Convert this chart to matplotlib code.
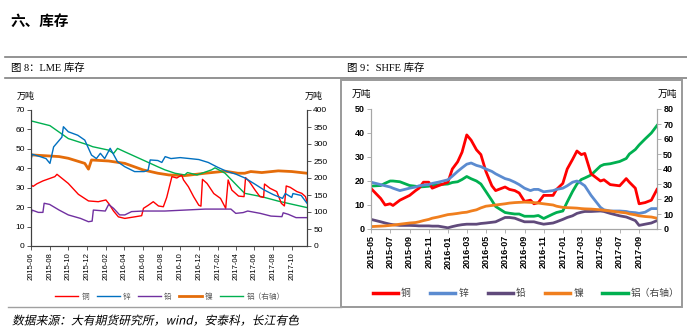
import matplotlib
matplotlib.use("Agg")
import matplotlib.pyplot as plt
import matplotlib.dates as mdates
from matplotlib.lines import Line2D
from matplotlib.patches import Rectangle
from matplotlib.patheffects import AbstractPathEffect
from matplotlib.transforms import Affine2D
import pandas as pd

plt.rcParams['font.family'] = ['Liberation Sans', 'Noto Sans CJK SC', 'DejaVu Sans']

# ---------------- LME (图8) ----------------
lme_cu_dates = ["2015-06-01", "2015-06-08", "2015-06-20", "2015-07-10", "2015-08-18", "2015-08-25",
                "2015-10-01", "2015-11-03", "2015-12-06", "2016-01-07", "2016-02-01", "2016-02-12",
                "2016-02-26", "2016-03-13", "2016-04-03", "2016-05-05", "2016-05-28", "2016-06-03",
                "2016-06-19", "2016-07-05", "2016-07-22", "2016-08-07", "2016-08-18", "2016-09-04",
                "2016-09-20", "2016-10-06", "2016-10-12", "2016-10-28", "2016-11-14", "2016-12-01",
                "2016-12-08", "2016-12-13", "2016-12-28", "2017-01-19", "2017-02-10", "2017-02-27",
                "2017-03-07", "2017-03-19", "2017-04-10", "2017-04-28", "2017-05-03", "2017-05-16",
                "2017-06-03", "2017-06-19", "2017-07-01", "2017-07-04", "2017-07-22", "2017-08-13",
                "2017-08-28", "2017-09-07", "2017-09-13", "2017-09-26", "2017-10-18", "2017-11-03",
                "2017-11-15", "2017-11-20"]
lme_cu = [31.4, 30.7, 32.0, 33.5, 35.7, 36.9,
          32.2, 26.6, 23.2, 22.8, 23.7, 21.5,
          18.0, 15.0, 14.2, 15.0, 15.6, 19.4,
          21.0, 22.8, 20.6, 20.2, 25.0, 35.7,
          35.0, 36.5, 34.0, 30.5, 25.4, 21.0,
          20.5, 34.3, 32.2, 27.0, 24.5, 19.4,
          34.0, 28.8, 25.7, 25.4, 35.2, 33.0,
          28.8, 25.4, 25.0, 31.9, 29.7, 28.0,
          22.0, 20.6, 30.9, 30.2, 28.0, 27.1,
          25.4, 22.8]

lme_zn_dates = ["2015-06-01", "2015-06-05", "2015-07-01", "2015-07-20", "2015-08-02", "2015-08-14",
                "2015-09-10", "2015-09-15", "2015-10-01", "2015-11-01", "2015-11-24", "2015-12-16",
                "2016-01-01", "2016-01-14", "2016-01-28", "2016-02-15", "2016-03-10", "2016-04-03",
                "2016-05-05", "2016-06-05", "2016-06-18", "2016-06-25", "2016-07-20", "2016-08-02",
                "2016-08-13", "2016-09-01", "2016-10-01", "2016-11-01", "2016-12-01", "2017-01-01",
                "2017-02-01", "2017-03-01", "2017-04-01", "2017-05-01", "2017-06-01", "2017-07-01",
                "2017-08-01", "2017-09-01", "2017-09-10", "2017-10-01", "2017-10-05", "2017-11-01",
                "2017-11-20"]
lme_zn = [44.3, 47.2, 46.0, 45.0, 42.5, 51.0,
          56.0, 61.4, 58.8, 57.0, 54.5, 46.8,
          45.0, 47.7, 45.0, 50.3, 43.4, 40.8,
          38.3, 38.3, 39.0, 44.3, 44.0, 43.0,
          46.0, 45.0, 45.5, 45.0, 44.5, 43.0,
          40.5, 38.5, 37.0, 35.0, 32.0, 29.0,
          26.5, 24.5, 27.0, 25.0, 27.0, 26.0,
          22.0]

lme_pb_dates = ["2015-06-01", "2015-06-04", "2015-06-25", "2015-07-10", "2015-07-14", "2015-08-01",
                "2015-09-01", "2015-10-01", "2015-11-10", "2015-12-06", "2015-12-18", "2015-12-22",
                "2016-01-30", "2016-02-10", "2016-02-26", "2016-03-17", "2016-04-03", "2016-04-25",
                "2016-06-01", "2016-08-12", "2016-12-22", "2017-03-16", "2017-04-01", "2017-04-25",
                "2017-05-10", "2017-06-20", "2017-07-25", "2017-08-30", "2017-09-03", "2017-09-20",
                "2017-10-15", "2017-11-20"]
lme_pb = [15.1, 18.5, 17.3, 17.3, 22.0, 21.4,
          18.5, 16.0, 14.2, 12.5, 12.8, 18.5,
          18.0, 21.4, 19.4, 16.0, 16.0, 17.7,
          18.0, 18.0, 19.0, 19.0, 16.8, 17.2,
          18.0, 16.8, 15.4, 15.1, 17.1, 16.3,
          14.6, 14.6]

lme_ni_dates = ["2015-06-01", "2015-09-01", "2015-10-01", "2015-11-24", "2015-12-06", "2015-12-16",
                "2016-02-10", "2016-04-03", "2016-06-01", "2016-07-20", "2016-08-25", "2016-10-16",
                "2016-12-22", "2017-02-25", "2017-04-08", "2017-04-30", "2017-05-20", "2017-06-25",
                "2017-08-18", "2017-10-01", "2017-11-20"]
lme_ni = [268, 263, 258, 243, 226, 253,
          250, 243, 224, 214, 209, 207,
          214, 220, 214, 214, 219, 216,
          221, 219, 214]

lme_al_dates = ["2015-06-01", "2015-08-02", "2015-10-01", "2015-12-06", "2015-12-20", "2016-02-10",
                "2016-02-26", "2016-03-10", "2016-04-03", "2016-06-01", "2016-07-20", "2016-08-12",
                "2016-09-14", "2016-10-16", "2016-10-25", "2016-11-25", "2017-01-12", "2017-01-23",
                "2017-02-25", "2017-04-08", "2017-04-30", "2017-06-25", "2017-08-18", "2017-10-01",
                "2017-11-20"]
lme_al = [368, 354, 316, 297, 292, 282,
          272, 287, 277, 253, 233, 224,
          214, 209, 216, 209, 224, 230,
          214, 175, 155, 145, 132, 123,
          113]

# ---------------- SHFE (图9) ----------------
shfe_dates = ["2015-05-01", "2015-06-01", "2015-06-15", "2015-07-01", "2015-07-10", "2015-08-01",
              "2015-09-01", "2015-09-20", "2015-10-01", "2015-10-15", "2015-11-01", "2015-11-12",
              "2015-12-01", "2016-01-01", "2016-01-15", "2016-02-01", "2016-02-15", "2016-03-01",
              "2016-03-15", "2016-04-01", "2016-04-15", "2016-05-01", "2016-05-20", "2016-06-01",
              "2016-07-01", "2016-07-15", "2016-08-01", "2016-08-15", "2016-09-01", "2016-09-20",
              "2016-10-01", "2016-10-15", "2016-11-01", "2016-12-01", "2016-12-12", "2017-01-01",
              "2017-01-15", "2017-02-01", "2017-02-15", "2017-03-01", "2017-03-12", "2017-04-01",
              "2017-05-01", "2017-05-12", "2017-06-01", "2017-07-01", "2017-07-22", "2017-08-01",
              "2017-08-20", "2017-09-01", "2017-09-20", "2017-10-10", "2017-10-28"]
shfe_cu = [16.9, 12.7, 10.0, 10.5, 9.8, 12.0,
           14.0, 16.0, 17.0, 19.5, 19.5, 17.0,
           18.0, 19.5, 25.0, 28.0, 32.0, 39.2,
           37.0, 33.0, 31.0, 24.0, 18.0, 16.0,
           17.5, 16.5, 16.0, 15.0, 11.5, 12.0,
           10.5, 11.0, 14.0, 14.0, 16.5, 19.0,
           25.0, 29.0, 32.5, 31.0, 31.5, 23.0,
           20.0, 20.5, 18.5, 18.0, 21.0, 19.5,
           17.0, 10.5, 11.0, 12.0, 16.5]
shfe_zn = [19.5, 18.5, 18.0, 17.5, 17.0, 16.0,
           17.0, 17.5, 18.0, 18.3, 18.5, 19.0,
           19.5, 20.5, 22.0, 24.0, 25.5, 27.0,
           27.5, 26.5, 26.0, 25.0, 24.0, 23.0,
           21.0, 20.5, 19.5, 18.5, 17.0, 16.0,
           16.5, 16.5, 15.5, 16.0, 16.5, 17.0,
           18.0, 19.5, 20.0, 19.0, 18.0, 14.0,
           9.0, 8.0, 7.5, 7.5, 7.3, 7.0,
           6.8, 6.5, 7.0, 8.5, 8.5]
shfe_pb = [4.0, 3.0, 2.5, 2.0, 1.8, 1.5,
           1.5, 1.4, 1.3, 1.3, 1.3, 1.2,
           1.2, 0.5, 1.0, 1.5, 1.8, 2.0,
           2.0, 2.0, 2.3, 2.5, 2.8, 3.0,
           4.8, 4.8, 4.5, 3.8, 3.0, 3.0,
           3.0, 2.5, 2.0, 2.5, 3.0, 4.0,
           4.8, 5.5, 6.5, 7.0, 7.3, 7.3,
           7.5, 7.3, 6.5, 5.5, 5.0, 4.5,
           3.5, 1.5, 2.0, 2.5, 3.5]
shfe_ni = [1.0, 1.2, 1.3, 1.5, 1.6, 2.0,
           2.5, 2.7, 3.0, 3.5, 4.0, 4.5,
           5.0, 6.0, 6.2, 6.5, 6.8, 7.0,
           7.5, 8.0, 8.8, 9.5, 9.8, 10.0,
           10.5, 10.8, 11.0, 11.1, 11.2, 11.1,
           11.0, 10.8, 10.5, 10.0, 9.5, 9.0,
           8.9, 8.8, 8.7, 8.5, 8.4, 8.3,
           8.0, 7.8, 7.5, 7.0, 6.7, 6.3,
           5.9, 5.5, 5.2, 5.0, 4.5]
shfe_al = [28.6, 29.0, 30.5, 32.0, 32.0, 31.5,
           29.0, 28.5, 28.0, 28.2, 28.5, 29.0,
           29.5, 30.0, 31.0, 31.5, 33.0, 35.0,
           33.5, 32.0, 30.0, 25.0, 19.0, 15.0,
           11.0, 10.5, 10.0, 10.0, 8.5, 8.5,
           8.5, 9.0, 7.0, 10.0, 11.0, 12.0,
           18.0, 25.0, 30.0, 33.0, 34.0, 36.0,
           42.0, 43.0, 43.5, 45.0, 47.0, 50.0,
           53.0, 56.0, 60.0, 64.0, 69.0]

names = ["铜", "锌", "铅", "镍", "铝（右轴）"]
lme_colors = ["#FF0000", "#0070C0", "#7030A0", "#E46C0A", "#00B050"]
shfe_colors = ["#FF0000", "#5B8BD0", "#604A7B", "#F07F1E", "#00B050"]

W, H = 687, 331
fig = plt.figure(figsize=(W / 100, H / 100), dpi=100)


class Slant(AbstractPathEffect):
    # fake italic for the CJK source line (the font has no italic face)
    def __init__(self, deg=12):
        super().__init__()
        self.deg = deg

    def draw_path(self, renderer, gc, tpath, affine, rgbFace=None):
        x0, y0 = affine.transform((0, 0))
        sk = Affine2D().translate(-x0, -y0).skew_deg(self.deg, 0).translate(x0, y0)
        renderer.draw_path(gc, tpath, affine + sk, rgbFace)


def box(x0, y0, x1, y1):
    return [x0 / W, 1 - y1 / H, (x1 - x0) / W, (y1 - y0) / H]


def hline(x0, x1, y, color="#808080", lw=1.2):
    fig.add_artist(Line2D([x0 / W, x1 / W], [1 - y / H, 1 - y / H],
                          transform=fig.transFigure, color=color, lw=lw))


# page furniture
fig.text(10 / W, 1 - 21 / H, "六、库存", fontsize=10.5, fontweight="bold",
         va="center", ha="left", family=["Noto Sans CJK SC"])
hline(5, 687, 57)
hline(5, 687, 78)
fig.text(11 / W, 1 - 68 / H, "图 8：LME 库存", fontsize=7.5, va="center", ha="left",
         family=["Liberation Serif", "Noto Sans CJK SC"])
fig.text(347 / W, 1 - 68 / H, "图 9：SHFE 库存", fontsize=7.5, va="center", ha="left",
         family=["Liberation Serif", "Noto Sans CJK SC"])
fig.add_artist(Rectangle((341 / W, 1 - 307 / H), (682 - 341) / W, (307 - 80) / H,
                         transform=fig.transFigure, fill=False, edgecolor="#9a9a9a", lw=1.4))
hline(8, 341, 307, color="#a0a0a0", lw=1.0)
fig.text(12 / W, 1 - 321 / H, "数据来源：大有期货研究所，wind，安泰科，长江有色", fontsize=8.5,
         va="center", ha="left", family=["Noto Sans CJK SC"], path_effects=[Slant(12)])

# ---------------- left chart ----------------
ax1 = fig.add_axes(box(31, 110, 307, 246))
ax1r = ax1.twinx()
d = pd.to_datetime
h = []
h += ax1.plot(d(lme_cu_dates), lme_cu, color=lme_colors[0], lw=1.0)
h += ax1.plot(d(lme_zn_dates), lme_zn, color=lme_colors[1], lw=1.0)
h += ax1.plot(d(lme_pb_dates), lme_pb, color=lme_colors[2], lw=1.0)
h += ax1r.plot(d(lme_ni_dates), lme_ni, color=lme_colors[3], lw=2.0)
h += ax1r.plot(d(lme_al_dates), lme_al, color=lme_colors[4], lw=1.0)
ax1.set_zorder(ax1r.get_zorder() + 1)
ax1.patch.set_visible(False)

ax1.set_xlim(d("2015-06-01"), d("2017-11-20"))
ax1.set_ylim(0, 70)
ax1r.set_ylim(0, 400)
ax1.set_yticks(range(0, 71, 10))
ax1r.set_yticks(range(0, 401, 50))
ax1.xaxis.set_major_locator(mdates.MonthLocator(bymonth=[2, 4, 6, 8, 10, 12]))
ax1.xaxis.set_major_formatter(mdates.DateFormatter("%Y-%m"))
for a in (ax1, ax1r):
    a.spines["top"].set_visible(False)
    for s in ("left", "right", "bottom"):
        a.spines[s].set_color("#404040")
        a.spines[s].set_linewidth(0.8)
    a.tick_params(axis="both", labelsize=6, length=3, width=0.6, color="#404040", pad=1.5)
ax1.tick_params(axis="x", labelrotation=90, labelsize=5.5)
fig.text(26 / W, 1 - 96 / H, "万吨", fontsize=6.5, ha="center", va="center")
fig.text(314 / W, 1 - 96 / H, "万吨", fontsize=6.5, ha="center", va="center")
fig.legend(h, names, loc="center", bbox_to_anchor=(170 / W, 1 - 297 / H), ncol=5,
           frameon=False, fontsize=5.5, handlelength=3.0, handletextpad=0.4,
           columnspacing=1.0, labelcolor="#595959")

# ---------------- right chart ----------------
ax2 = fig.add_axes(box(371, 109, 657, 229))
ax2r = ax2.twinx()
sd = d(shfe_dates)
h2 = []
h2 += ax2.plot(sd, shfe_cu, color=shfe_colors[0], lw=2.0)
h2 += ax2.plot(sd, shfe_zn, color=shfe_colors[1], lw=2.0)
h2 += ax2.plot(sd, shfe_pb, color=shfe_colors[2], lw=2.0)
h2 += ax2.plot(sd, shfe_ni, color=shfe_colors[3], lw=2.0)
h2 += ax2r.plot(sd, shfe_al, color=shfe_colors[4], lw=2.0)
ax2.set_zorder(ax2r.get_zorder() + 1)
ax2.patch.set_visible(False)

ax2.set_xlim(d("2015-05-01"), d("2017-10-28"))
ax2.set_ylim(0, 50)
ax2r.set_ylim(0, 80)
ax2.set_yticks(range(0, 51, 10))
ax2r.set_yticks(range(0, 81, 10))
ax2.xaxis.set_major_locator(mdates.MonthLocator(bymonth=[1, 3, 5, 7, 9, 11]))
ax2.xaxis.set_major_formatter(mdates.DateFormatter("%Y-%m"))
for a in (ax2, ax2r):
    a.spines["top"].set_visible(False)
    for s in ("left", "right", "bottom"):
        a.spines[s].set_color("#a6a6a6")
        a.spines[s].set_linewidth(0.8)
    a.tick_params(axis="both", labelsize=6.5, length=3, width=0.6, color="#a6a6a6", pad=1.5)
    for lab in a.get_yticklabels():
        lab.set_fontweight("bold")
ax2.tick_params(axis="x", labelrotation=90, labelsize=6.5)
for lab in ax2.get_xticklabels():
    lab.set_fontweight("bold")
fig.text(361 / W, 1 - 94 / H, "万吨", fontsize=7, ha="center", va="center")
fig.text(667 / W, 1 - 94 / H, "万吨", fontsize=7, ha="center", va="center")
fig.legend(h2, names, loc="center", bbox_to_anchor=(526 / W, 1 - 293 / H), ncol=5,
           frameon=False, fontsize=7, handlelength=2.6, handletextpad=0.3,
           columnspacing=2.0, labelcolor="#404040")
for lh in fig.legends[-1].get_lines():
    lh.set_linewidth(2.5)

fig.savefig("out.png", dpi=100)
